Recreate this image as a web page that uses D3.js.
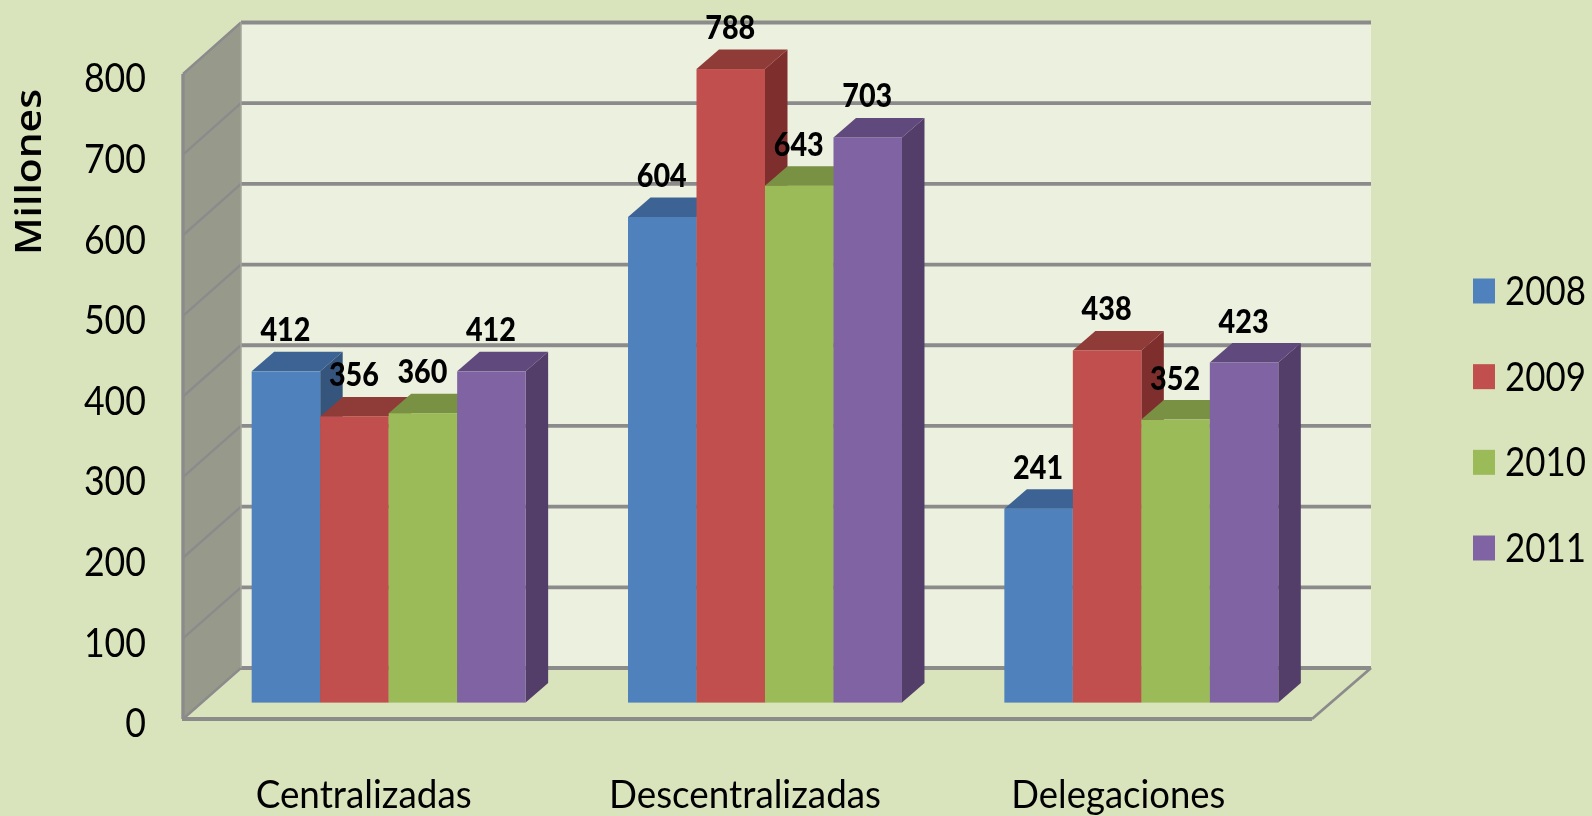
<!DOCTYPE html>
<html>
<head>
<meta charset="utf-8">
<script src="https://cdn.jsdelivr.net/npm/d3@7"></script>
<style>
  html, body { margin: 0; padding: 0; background: #d9e4bd; }
  svg { display: block; }
  text { font-family: Lato, "Noto Sans", sans-serif; fill: #000; }
</style>
</head>
<body>
<div id="chart"></div>
<script>
// values
var categories = ["Centralizadas", "Descentralizadas", "Delegaciones"];
var years = ["2008", "2009", "2010", "2011"];
var values2008 = [412, 604, 241];
var values2009 = [356, 788, 438];
var values2010 = [360, 643, 352];
var values2011 = [412, 703, 423];
var yTicks = [0, 100, 200, 300, 400, 500, 600, 700, 800];
var categoryWidths = [216, 272, 214];
var categoryNudge = [-2, 3, 0];

var seriesValues = [values2008, values2009, values2010, values2011];
var frontColors = ["#4f81bd", "#c0504d", "#9bbb59", "#8064a2"];
var topColors = ["#3c6494", "#8f3b39", "#789143", "#614a7c"];
var sideColors = ["#35547c", "#7f2f2e", "#6a8039", "#533e69"];

var width = 1592, height = 816;

var svg = d3.select("#chart").append("svg")
    .attr("width", width)
    .attr("height", height);

// the source is a blown up bitmap, so everything is a bit soft
svg.append("defs").append("filter")
    .attr("id", "soft")
    .append("feGaussianBlur")
    .attr("stdDeviation", 0.7);

var chart = svg.append("g").attr("filter", "url(#soft)");

// scales: front edge of the box, back wall, and the plane the bars stand on
var yFront = d3.scaleLinear().domain([0, 800]).range([719, 74]);
var yBack = d3.scaleLinear().domain([0, 800]).range([668, 22.5]);
var yBar = d3.scaleLinear().domain([0, 800]).range([702.6, 59.4]);

var xGroup = d3.scaleBand().domain(categories).range([200.5, 1329.5])
    .paddingInner(0.272).paddingOuter(0.136);
var xBar = d3.scaleBand().domain(years).range([0, xGroup.bandwidth()]);

var frontLeft = 183, backLeft = 241, backRight = 1371, frontRight = 1312;
var depthX = 22.5, depthY = 19.5;
var lineColor = "#8b8b8b";

function poly(points) {
    return d3.line()(points) + "Z";
}

// This section draws the box: back wall, side wall and floor
chart.append("path")
    .attr("d", poly([[backLeft, yBack(800)], [backRight, yBack(800)], [backRight, yBack(0)], [backLeft, yBack(0)]]))
    .attr("fill", "#ecf0de");
chart.append("path")
    .attr("d", poly([[frontLeft, yFront(800)], [backLeft, yBack(800)], [backLeft, yBack(0)], [frontLeft, yFront(0)]]))
    .attr("fill", "#979a8b");
chart.append("path")
    .attr("d", poly([[frontLeft, yFront(0)], [backLeft, yBack(0)], [backRight, yBack(0)], [frontRight, yFront(0)]]))
    .attr("fill", "#d9e4bd");

// gridlines on the back wall and their slanted part on the side wall
chart.selectAll(".grid").data(yTicks).enter().append("line")
    .attr("class", "grid")
    .attr("x1", backLeft).attr("x2", backRight)
    .attr("y1", function (d) { return yBack(d); })
    .attr("y2", function (d) { return yBack(d); })
    .attr("stroke", lineColor).attr("stroke-width", 3.8);
chart.selectAll(".slant").data(yTicks).enter().append("line")
    .attr("class", "slant")
    .attr("x1", frontLeft).attr("x2", backLeft)
    .attr("y1", function (d) { return yFront(d); })
    .attr("y2", function (d) { return yBack(d); })
    .attr("stroke", lineColor).attr("stroke-width", 2.4);

// box edges
chart.append("line")
    .attr("x1", frontLeft).attr("x2", frontLeft)
    .attr("y1", yFront(800)).attr("y2", yFront(0))
    .attr("stroke", lineColor).attr("stroke-width", 3.4);
chart.append("line")
    .attr("x1", backLeft).attr("x2", backLeft)
    .attr("y1", yBack(800)).attr("y2", yBack(0))
    .attr("stroke", "#a3a698").attr("stroke-width", 1.5);
chart.append("line")
    .attr("x1", frontLeft - 1).attr("x2", frontRight)
    .attr("y1", yFront(0)).attr("y2", yFront(0))
    .attr("stroke", lineColor).attr("stroke-width", 4.2);
chart.append("line")
    .attr("x1", frontRight).attr("x2", backRight)
    .attr("y1", yFront(0)).attr("y2", yBack(0))
    .attr("stroke", lineColor).attr("stroke-width", 2.8);

// flatten the series to one record per bar, left to right so the overlaps come out right
var bars = [];
categories.forEach(function (cat, c) {
    years.forEach(function (year, s) {
        bars.push({ cat: cat, year: year, s: s, value: seriesValues[s][c] });
    });
});

var bar = chart.selectAll(".bar").data(bars).enter().append("g").attr("class", "bar");

function left(d) { return xGroup(d.cat) + xBar(d.year); }
function right(d) { return left(d) + xBar.bandwidth(); }

bar.append("path")
    .attr("d", function (d) {
        return poly([[right(d), yBar(d.value)], [right(d) + depthX, yBar(d.value) - depthY],
                     [right(d) + depthX, yBar(0) - depthY], [right(d), yBar(0)]]);
    })
    .attr("fill", function (d) { return sideColors[d.s]; });
bar.append("path")
    .attr("d", function (d) {
        return poly([[left(d), yBar(d.value)], [left(d) + depthX, yBar(d.value) - depthY],
                     [right(d) + depthX, yBar(d.value) - depthY], [right(d), yBar(d.value)]]);
    })
    .attr("fill", function (d) { return topColors[d.s]; });
bar.append("rect")
    .attr("x", left)
    .attr("y", function (d) { return yBar(d.value); })
    .attr("width", xBar.bandwidth())
    .attr("height", function (d) { return yBar(0) - yBar(d.value); })
    .attr("fill", function (d) { return frontColors[d.s]; });

// value labels go on top of all the bars
chart.selectAll(".value").data(bars).enter().append("text")
    .attr("class", "value")
    .attr("x", function (d) { return left(d) + xBar.bandwidth() / 2 - 0.5; })
    .attr("y", function (d) { return yBar(d.value) - 30; })
    .attr("text-anchor", "middle")
    .attr("font-size", 33)
    .style("font-weight", 900)
    .attr("textLength", 50)
    .attr("lengthAdjust", "spacingAndGlyphs")
    .text(function (d) { return d.value; });

// y axis, only the labels show
var yAxis = chart.append("g")
    .attr("transform", "translate(146,5)")
    .call(d3.axisLeft(yFront).tickValues(yTicks).tickSize(0).tickPadding(0));
yAxis.select(".domain").remove();
yAxis.selectAll("text")
    .attr("font-size", 40)
    .style("font-family", "Lato")
    .style("font-weight", 400)
    .style("fill", "#000")
    .attr("textLength", function (d) { return String(d).length * 20.7; })
    .attr("lengthAdjust", "spacingAndGlyphs");

// x axis, shifted left of the bars like in the source
var xAxis = chart.append("g")
    .attr("transform", "translate(-23,781)")
    .call(d3.axisBottom(xGroup).tickSize(0).tickPadding(0));
xAxis.select(".domain").remove();
xAxis.selectAll("text")
    .attr("font-size", 38)
    .style("font-family", "Lato")
    .style("font-weight", 400)
    .style("fill", "#000")
    .attr("dx", function (d, i) { return categoryNudge[i]; })
    .attr("textLength", function (d, i) { return categoryWidths[i]; })
    .attr("lengthAdjust", "spacingAndGlyphs");

// y axis title
chart.append("text")
    .attr("transform", "translate(41,172) rotate(-90)")
    .attr("text-anchor", "middle")
    .attr("font-size", 36)
    .style("font-weight", 600)
    .style("font-family", "'Open Sans'")
    .attr("textLength", 166)
    .attr("lengthAdjust", "spacingAndGlyphs")
    .text("Millones");

// legend
var yLegend = d3.scalePoint().domain(years).range([291, 548]);
var legend = chart.selectAll(".legend").data(years).enter().append("g")
    .attr("class", "legend")
    .attr("transform", function (d) { return "translate(1473," + yLegend(d) + ")"; });
legend.append("rect")
    .attr("x", 0).attr("y", -12.5)
    .attr("width", 22).attr("height", 25)
    .attr("fill", function (d, i) { return frontColors[i]; });
// squeezed with a transform so the text box stays inside the page
legend.append("text")
    .attr("font-size", 40)
    .style("font-weight", 400)
    .style("fill", "#000")
    .text(function (d) { return d; })
    .attr("transform", function () {
        return "translate(32,14) scale(" + (81 / this.getComputedTextLength()) + ",1)";
    });
</script>
</body>
</html>
